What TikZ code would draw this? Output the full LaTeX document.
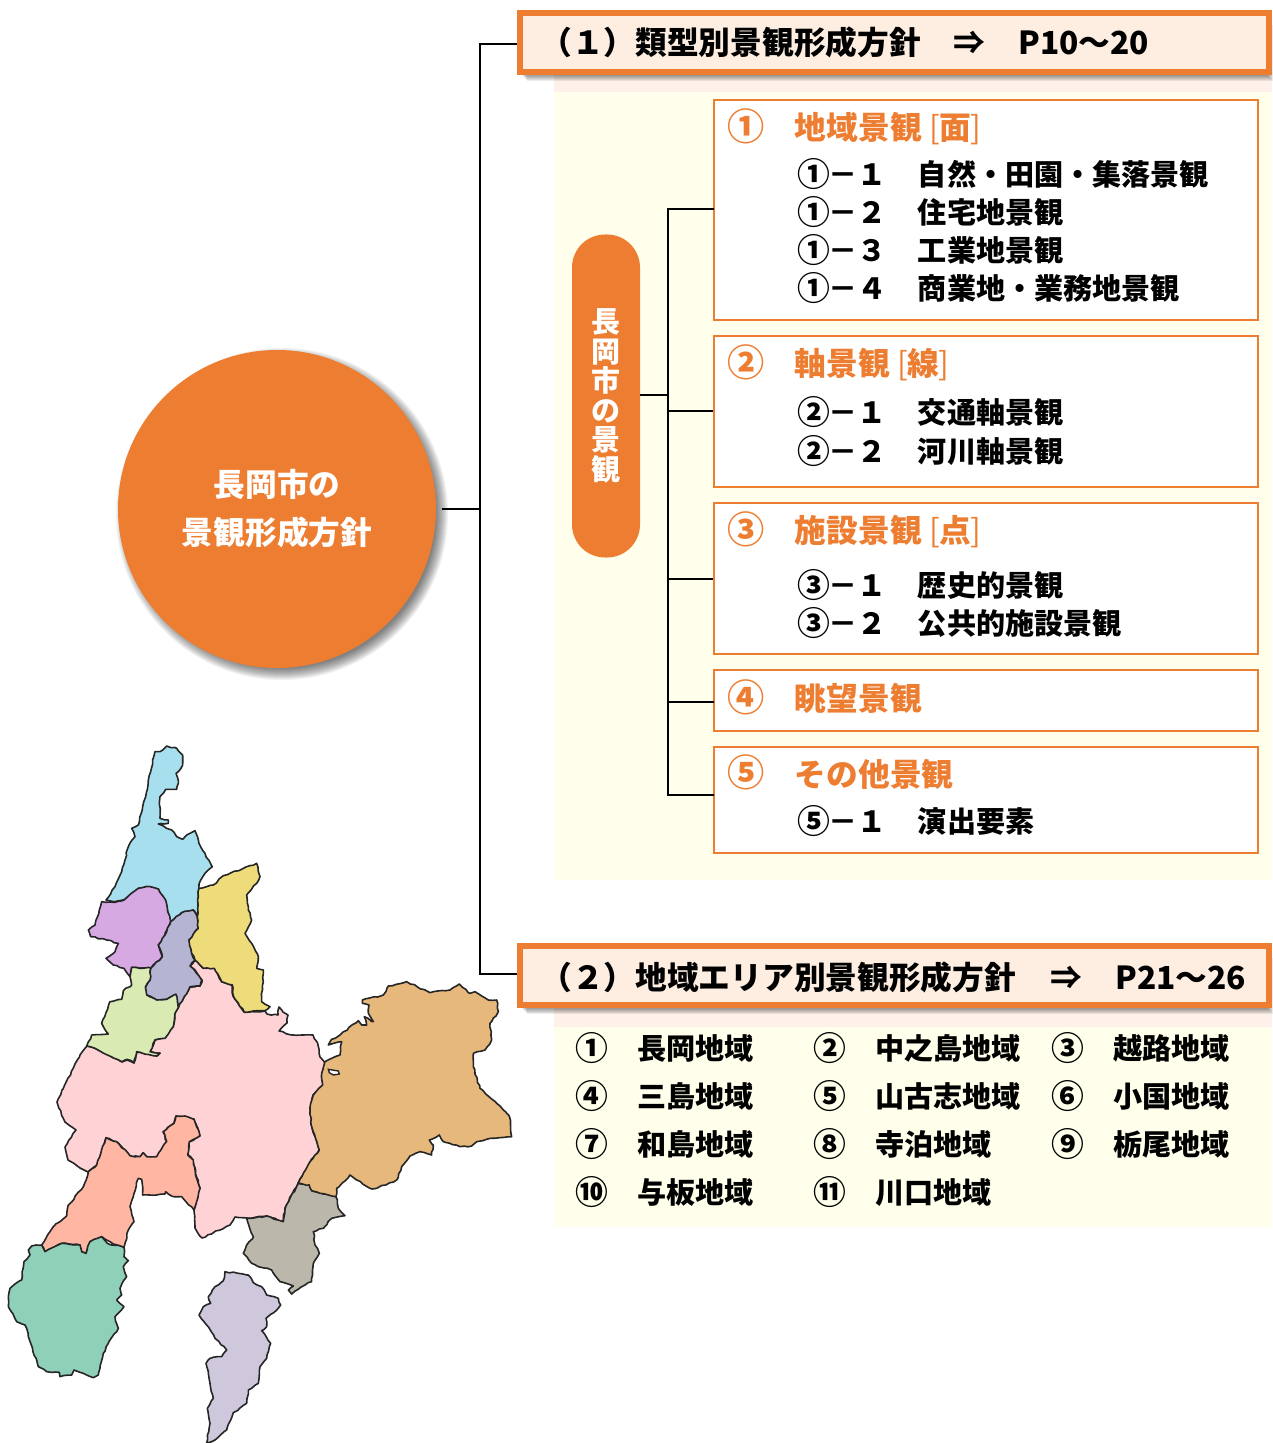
\documentclass[tikz,border=0pt]{standalone}
\usepackage{fontspec}
\setmainfont{Noto Sans CJK JP}
\usetikzlibrary{decorations.pathmorphing,calc}
\definecolor{org}{HTML}{ED7D31}
\definecolor{barfill}{HTML}{FDEEE1}
\definecolor{ivory}{HTML}{FFFFEC}
\definecolor{band}{HTML}{FDF1E9}
\newcommand{\cn}[1]{\makebox[1em]{\raisebox{-.6pt}{\fontsize{16.4}{17}\selectfont #1}}}
\newcommand{\brk}[1]{{\mdseries[}\hspace{-.4pt}#1\hspace{-.4pt}{\mdseries]}}
\tikzset{
 bartext/.style={anchor=west,inner sep=0,text height=13.9pt,text depth=1.9pt,font=\fontsize{15.85}{18}\selectfont\bfseries,text=black},
 headtext/.style={bartext,text=org},
 headnum/.style={anchor=center,inner sep=0,text height=15.5pt,text depth=2.1pt,font=\fontsize{18.6}{20}\selectfont\bfseries,text=org},
 rowtext/.style={anchor=west,inner sep=0,text height=12.6pt,text depth=2.1pt,font=\fontsize{14.55}{17}\selectfont\bfseries,text=black},
 rownum/.style={rowtext,anchor=center},
 framebar/.style={draw=org,fill=barfill,line width=2.9pt,minimum width=374.5pt,minimum height=29.5pt,inner sep=0},
 framebox/.style={draw=org,fill=white,line width=.75pt,minimum width=272pt,inner sep=0},
 link/.style={draw=black,line width=1pt},
 region/.style={draw=black!85,line width=.8pt,line join=round,decorate,decoration={random steps,segment length=2pt,amplitude=.35pt}},
}
\newcommand{\softbar}[2]{%
 \foreach \g in {5,4,3,2,1,0,-1,-2}{\fill[black,opacity=.075] ($(#1)+(\g,\g)$) rectangle ($(#2)+(\g,\g)$);}}
\begin{document}
\begin{tikzpicture}[x=.5pt,y=-.5pt]
\useasboundingbox (0,0) rectangle (1272,1443);
% backgrounds
\fill[band] (554,75) rectangle (1272,92);
\fill[ivory] (554,92) rectangle (1272,880);
\fill[band] (554,1008) rectangle (1272,1027);
\fill[ivory] (554,1027) rectangle (1272,1227);
% shadows
\softbar{522,20}{1268,76}
\softbar{522,953}{1268,1009}
\foreach \g in {7,6,5,4,3,2,1,0,-1,-2,-3,-4,-5}{\fill[black,opacity=.05] (282,514) circle[radius=(159+\g)*.5pt];}
% main nodes
\node[circle,fill=org,minimum size=159pt,inner sep=0,align=center,text=white,font=\fontsize{15.85}{24}\selectfont\bfseries] (circ) at (277,509) {長岡市の\\景観形成方針};
\node[framebar] (bar1) at (894.5,42.5) {};
\node[framebar] (bar2) at (894.5,975.5) {};
\node[fill=org,rounded corners=16.5pt,minimum width=34pt,minimum height=161.5pt,inner sep=0,align=center,text=white,font=\fontsize{14.5}{14.8}\selectfont\bfseries] (pill) at (606,396) {長\\岡\\市\\の\\景\\観};
\node[framebox,minimum height=110pt] (box1) at (986,210) {};
\node[framebox,minimum height=75.5pt] (box2) at (986,411.5) {};
\node[framebox,minimum height=75.5pt] (box3) at (986,578.5) {};
\node[framebox,minimum height=30.5pt] (box4) at (986,700.5) {};
\node[framebox,minimum height=53pt] (box5) at (986,800) {};
% connectors
\coordinate (trunk) at (480,509);
\coordinate (spine) at (668,395);
\coordinate (j1) at (517,44);
\coordinate (j2) at (517,974);
\coordinate (b1) at (714,209);
\coordinate (b4) at (714,702);
\coordinate (b5) at (714,795);
\draw[link,shorten <=3pt] (circ.east) -- (trunk);
\draw[link] (j1) -- (trunk |- j1) -- (trunk |- j2) -- (j2);
\draw[link] (pill.east |- spine) -- (spine);
\draw[link] (b1) -- (spine |- b1) -- (spine |- b5) -- (b5);
\draw[link] (spine |- box2.west) -- (box2.west);
\draw[link] (spine |- box3.west) -- (box3.west);
\draw[link] (spine |- b4) -- (b4);
% bar texts
\node[bartext] (t1) at (540,43) {（１）類型別景観形成方針};
\node[bartext,anchor=center] (t1a) at (969,43) {⇒};
\node[bartext] (t1b) at (1018,43) {P10～20};
\node[bartext] (t2) at (540,977) {（２）地域エリア別景観形成方針};
\node[bartext,anchor=center] (t2a) at (1066,977) {⇒};
\node[bartext] (t2b) at (1115,977) {P21～26};
% box headings
\node[headnum] (h1n) at (746,127) {①};
\node[headtext] (h1) at (794.5,128) {地域景観};
\node[headtext] (h1b) at (929,128) {\brk{面}};
\node[headnum] (h2n) at (746,363) {②};
\node[headtext] (h2) at (794.5,364) {軸景観};
\node[headtext] (h2b) at (897,364) {\brk{線}};
\node[headnum] (h3n) at (746,530) {③};
\node[headtext] (h3) at (794.5,530) {施設景観};
\node[headtext] (h3b) at (929,530) {\brk{点}};
\node[headnum] (h4n) at (746,698) {④};
\node[headtext] (h4) at (794.5,698) {眺望景観};
\node[headnum] (h5n) at (746,773) {⑤};
\node[headtext] (h5) at (794.5,774) {その他景観};
% box rows
\node[rowtext] (r11) at (799,175) {\cn{①}－１};\node[rowtext] (s11) at (917.5,175) {自然・田園・集落景観};
\node[rowtext] (r12) at (799,213) {\cn{①}－２};\node[rowtext] (s12) at (917.5,213) {住宅地景観};
\node[rowtext] (r13) at (799,251) {\cn{①}－３};\node[rowtext] (s13) at (917.5,251) {工業地景観};
\node[rowtext] (r14) at (799,289) {\cn{①}－４};\node[rowtext] (s14) at (917.5,289) {商業地・業務地景観};
\node[rowtext] (r21) at (799,413) {\cn{②}－１};\node[rowtext] (s21) at (917.5,413) {交通軸景観};
\node[rowtext] (r22) at (799,452) {\cn{②}－２};\node[rowtext] (s22) at (917.5,452) {河川軸景観};
\node[rowtext] (r31) at (799,586) {\cn{③}－１};\node[rowtext] (s31) at (917.5,586) {歴史的景観};
\node[rowtext] (r32) at (799,624) {\cn{③}－２};\node[rowtext] (s32) at (917.5,624) {公共的施設景観};
\node[rowtext] (r51) at (799,822) {\cn{⑤}－１};\node[rowtext] (s51) at (917.5,822) {演出要素};
% area list
\node[rownum] (a1) at (592,1049) {\cn{①}};\node[rowtext] (al1) at (637,1049) {長岡地域};
\node[rownum] (a2) at (830,1049) {\cn{②}};\node[rowtext] (al2) at (875,1049) {中之島地域};
\node[rownum] (a3) at (1068,1049) {\cn{③}};\node[rowtext] (al3) at (1113,1049) {越路地域};
\node[rownum] (a4) at (592,1097) {\cn{④}};\node[rowtext] (al4) at (637,1097) {三島地域};
\node[rownum] (a5) at (830,1097) {\cn{⑤}};\node[rowtext] (al5) at (875,1097) {山古志地域};
\node[rownum] (a6) at (1068,1097) {\cn{⑥}};\node[rowtext] (al6) at (1113,1097) {小国地域};
\node[rownum] (a7) at (592,1145) {\cn{⑦}};\node[rowtext] (al7) at (637,1145) {和島地域};
\node[rownum] (a8) at (830,1145) {\cn{⑧}};\node[rowtext] (al8) at (875,1145) {寺泊地域};
\node[rownum] (a9) at (1068,1145) {\cn{⑨}};\node[rowtext] (al9) at (1113,1145) {栃尾地域};
\node[rownum] (a10) at (592,1193) {\cn{⑩}};\node[rowtext] (al10) at (637,1193) {与板地域};
\node[rownum] (a11) at (830,1193) {\cn{⑪}};\node[rowtext] (al11) at (875,1193) {川口地域};
% map
\pgfmathsetseed{7}
\draw[region,fill={rgb,255:red,255;green,211;blue,214}] plot coordinates {(87,1046)(95,1048)(122,1062)(127,1060)(134,1063)(137,1052)(157,1056)(160,1053)(150,1052)(155,1040)(165,1038)(173,1027)(175,1013)(178,1008)(190,987)(200,986)(202,980)(197,973)(190,966)(195,960)(203,968)(214,968)(222,982)(232,985)(233,996)(244,1012)(265,1011)(267,1014)(278,1015)(279,1007)(283,1012)(288,1015)(287,1023)(279,1031)(293,1035)(313,1035)(318,1045)(320,1057)(325,1063)(322,1073)(323,1085)(313,1095)(310,1108)(312,1127)(319,1150)(310,1162)(298,1183)(285,1208)(283,1222)(267,1216)(247,1218)(235,1217)(230,1225)(202,1238)(195,1228)(194,1210)(200,1188)(197,1178)(193,1160)(188,1155)(189,1142)(200,1136)(194,1119)(185,1119)(176,1116)(174,1123)(163,1132)(167,1142)(157,1157)(147,1157)(143,1153)(140,1157)(130,1156)(117,1142)(106,1138)(97,1165)(88,1172)(80,1168)(68,1160)(65,1147)(76,1130)(65,1122)(57,1102)(62,1090)(63,1089)(80,1055)} -- cycle;
\begin{scope}[shift={(0,740)},scale=1/3]
\draw[region,fill={rgb,255:red,168;green,223;blue,238}] plot coordinates {(465,35)(480,35)(500,18)(530,25)(548,45)(548,75)(535,95)(528,100)(535,130)(530,148)(497,148)(480,170)(480,235)(505,240)(505,250)(475,252)(500,265)(515,270)(530,290)(548,298)(560,285)(585,272)(597,310)(637,380)(615,400)(597,432)(595,470)(592,530)(580,510)(545,518)(512,545)(497,490)(475,447)(450,440)(415,445)(375,478)(345,485)(318,480)(345,440)(365,395)(385,320)(405,290)(395,265)(415,255)(437,170)(445,120)} -- cycle;
\draw[region,fill={rgb,255:red,215;green,169;blue,227}] plot coordinates {(305,485)(345,487)(375,478)(415,445)(450,440)(475,447)(497,480)(503,515)(512,545)(495,585)(475,615)(487,650)(452,685)(420,685)(395,682)(390,710)(372,685)(340,675)(318,655)(345,635)(355,610)(320,600)(272,590)(265,570)(285,555)} -- cycle;
\draw[region,fill={rgb,255:red,181;green,181;blue,211}] plot coordinates {(512,545)(545,518)(580,510)(592,530)(595,565)(567,600)(575,640)(585,660)(570,678)(590,700)(605,720)(600,738)(570,740)(535,803)(528,763)(500,778)(470,780)(440,765)(436,742)(450,720)(452,685)(487,650)(475,615)(495,585)} -- cycle;
\draw[region,fill={rgb,255:red,238;green,220;blue,123}] plot coordinates {(597,445)(640,435)(670,407)(770,370)(775,395)(780,410)(770,430)(740,465)(745,510)(755,540)(735,580)(755,610)(775,650)(770,685)(790,690)(785,785)(810,800)(795,812)(733,817)(700,768)(697,735)(665,725)(643,685)(610,685)(585,660)(575,640)(567,600)(595,565)(592,530)(595,470)} -- cycle;
\draw[region,fill={rgb,255:red,217;green,234;blue,179}] plot coordinates {(395,682)(420,685)(447,682)(452,685)(450,720)(436,742)(440,765)(470,780)(500,778)(528,763)(535,803)(525,820)(520,860)(495,895)(465,900)(450,935)(480,940)(470,948)(410,935)(402,968)(380,958)(365,965)(285,925)(260,918)(275,885)(325,882)(305,850)(330,785)(365,778)(370,752)(395,735)(390,710)} -- cycle;
\end{scope}
\begin{scope}[shift={(0,1090)},scale=1/3]
\draw[region,fill={rgb,255:red,255;green,183;blue,163}] plot coordinates {(318,143)(350,155)(390,197)(420,200)(430,188)(440,200)(470,200)(500,155)(490,125)(522,100)(528,78)(555,78)(582,88)(600,137)(568,155)(563,195)(580,210)(590,265)(600,295)(582,360)(545,320)(515,318)(497,305)(495,312)(428,315)(425,268)(415,265)(390,350)(402,395)(385,420)(372,472)(340,462)(305,440)(270,455)(258,490)(245,485)(240,465)(185,460)(135,485)(125,465)(160,410)(200,378)(205,345)(250,290)(265,245)(290,225)} -- cycle;
\draw[region,fill={rgb,255:red,143;green,208;blue,184}] plot coordinates {(125,465)(135,485)(185,460)(240,465)(245,485)(258,490)(270,455)(305,440)(322,460)(372,472)(372,500)(385,512)(370,530)(380,560)(360,595)(365,615)(350,630)(372,650)(345,680)(355,715)(325,760)(310,790)(295,855)(280,863)(250,850)(222,840)(215,855)(180,860)(178,847)(140,845)(115,830)(85,740)(75,705)(50,695)(25,650)(25,620)(30,595)(65,570)(72,515)(90,495)(85,480)(95,468)} -- cycle;
\draw[region,fill={rgb,255:red,207;green,200;blue,221}] plot coordinates {(675,545)(715,550)(745,555)(760,578)(785,590)(800,615)(835,625)(842,645)(830,660)(798,685)(800,710)(785,722)(812,760)(800,805)(780,830)(775,880)(745,900)(740,940)(700,968)(680,1020)(645,1050)(620,1059)(630,1000)(622,955)(640,925)(630,880)(618,820)(630,805)(665,800)(680,780)(645,745)(620,705)(597,675)(610,650)(632,640)(625,620)(645,590)(670,572)} -- cycle;
\end{scope}
\begin{scope}[shift={(230,970)},scale=1/3]
\draw[region,fill={rgb,255:red,187;green,183;blue,171}] plot coordinates {(205,640)(238,645)(245,662)(318,680)(325,715)(345,737)(305,745)(280,775)(250,785)(255,825)(268,850)(250,880)(245,935)(225,945)(185,972)(175,960)(190,948)(150,935)(125,900)(85,890)(65,880)(40,850)(50,825)(70,800)(50,745)(110,738)(160,755)(165,715)} -- cycle;
\draw[region,fill={rgb,255:red,230;green,184;blue,124}] plot coordinates {(205,640)(240,575)(268,540)(245,470)(240,415)(250,375)(278,345)(275,310)(285,275)(330,255)(335,215)(295,225)(305,208)(330,195)(385,152)(395,165)(410,165)(403,140)(430,155)(415,130)(417,105)(397,100)(397,90)(460,75)(475,48)(530,35)(600,68)(660,60)(688,42)(720,70)(735,65)(775,90)(800,90)(805,125)(780,160)(785,210)(765,240)(730,250)(730,290)(750,355)(800,400)(838,438)(845,500)(780,505)(740,515)(725,528)(690,530)(660,520)(640,515)(628,495)(598,510)(610,525)(605,555)(570,545)(540,558)(515,590)(500,630)(440,655)(420,655)(360,615)(320,655)(318,680)(245,662)(238,645)} -- cycle;
\draw[draw=black!85,line width=.7pt,fill=white] plot coordinates {(295,298)(325,303)(328,312)(310,315)(298,308)} -- cycle;
\end{scope}
\end{tikzpicture}
\end{document}
